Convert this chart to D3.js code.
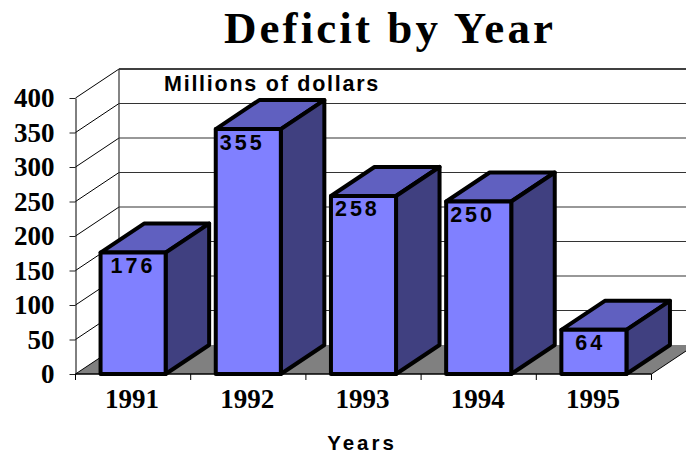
<!doctype html>
<html>
<head>
<meta charset="utf-8">
<style>
html, body { margin:0; padding:0; background:#fff; }
svg { display:block; }
.serif { font-family:"Liberation Serif", serif; font-weight:bold; fill:#000; }
.sans { font-family:"Liberation Sans", sans-serif; font-weight:bold; fill:#000; }
</style>
<script src="https://d3js.org/d3.v7.min.js" charset="utf-8"></script>
</head>
<body>
<script>

var years = ['1991', '1992', '1993', '1994', '1995'];
var deficits = [176, 355, 258, 250, 64];
var valueTicks = [0, 50, 100, 150, 200, 250, 300, 350, 400];

var width = 686, height = 453;
var depthX = 43.5, depthY = 29;   // 3D offset of the back wall
var barStroke = 4;

var svg = d3.select('body').append('svg')
	.attr('width', width)
	.attr('height', height);

var x = d3.scaleBand().domain(years).range([75.5, 651.5]).paddingInner(0.435).paddingOuter(0.2175);
var y = d3.scaleLinear().domain([0, 400]).range([374, 98]);

function pts(list) {
	return list.map(function (p) { return p.join(','); }).join(' ');
}

// title
svg.append('text').attr('class', 'serif')
	.attr('x', 390).attr('y', 43)
	.attr('text-anchor', 'middle')
	.attr('font-size', 45)
	.attr('letter-spacing', 3.1)
	.text('Deficit by Year');

// floor
svg.append('polygon')
	.attr('points', pts([[x.range()[0], y(0)], [x.range()[0] + depthX, y(0) - depthY],
		[x.range()[1] + depthX, y(0) - depthY], [x.range()[1], y(0)]]))
	.attr('fill', '#808080');

// back wall grid
svg.append('g').selectAll('line')
	.data(valueTicks.slice(1))
	.enter().append('line')
	.attr('x1', x.range()[0] + depthX)
	.attr('x2', width)
	.attr('y1', function (d) { return y(d) - depthY; })
	.attr('y2', function (d) { return y(d) - depthY; })
	.attr('stroke', function (d) { return d == 400 ? '#000' : '#333'; })
	.attr('stroke-width', function (d) { return d == 400 ? 1.4 : 1.2; });

// left wall grid
svg.append('g').selectAll('line')
	.data(valueTicks.slice(1))
	.enter().append('line')
	.attr('x1', x.range()[0])
	.attr('x2', x.range()[0] + depthX)
	.attr('y1', function (d) { return y(d); })
	.attr('y2', function (d) { return y(d) - depthY; })
	.attr('stroke', '#000')
	.attr('stroke-width', 1);

// wall edges
svg.append('line')
	.attr('x1', x.range()[0] + depthX).attr('x2', x.range()[0] + depthX)
	.attr('y1', y(400) - depthY).attr('y2', y(0) - depthY)
	.attr('stroke', '#333').attr('stroke-width', 1.2);
svg.append('line')
	.attr('x1', x.range()[0]).attr('x2', x.range()[0] + depthX)
	.attr('y1', y(0)).attr('y2', y(0) - depthY)
	.attr('stroke', '#000').attr('stroke-width', 1);
svg.append('line')
	.attr('x1', x.range()[1]).attr('x2', x.range()[1] + depthX)
	.attr('y1', y(0)).attr('y2', y(0) - depthY)
	.attr('stroke', '#000').attr('stroke-width', 1);

// value axis
var yAxis = svg.append('g')
	.attr('transform', 'translate(' + x.range()[0] + ',0)')
	.call(d3.axisLeft(y).tickValues(valueTicks).tickSize(6).tickPadding(15).tickSizeOuter(0));
yAxis.selectAll('path').attr('stroke', '#000').attr('stroke-width', 1);
yAxis.selectAll('line').attr('stroke', '#222').attr('stroke-width', 1);
yAxis.selectAll('text')
	.attr('class', 'serif')
	.attr('font-size', 27)
	.attr('dy', '0.33em');
yAxis.attr('font-family', null).attr('font-size', null);

// category axis, ticks sit between the bars
var step = x.step();
var xAxis = svg.append('g');
xAxis.append('line')
	.attr('x1', x.range()[0]).attr('x2', x.range()[1])
	.attr('y1', y(0)).attr('y2', y(0))
	.attr('stroke', '#000').attr('stroke-width', 1.4);
xAxis.selectAll('.tick')
	.data(d3.range(years.length + 1))
	.enter().append('line')
	.attr('class', 'tick')
	.attr('x1', function (i) { return x.range()[0] + i * step; })
	.attr('x2', function (i) { return x.range()[0] + i * step; })
	.attr('y1', y(0)).attr('y2', y(0) + 6)
	.attr('stroke', '#000').attr('stroke-width', 1);

// bars
var labelInset = [10, 4, 4, 4, 14];
var bars = svg.append('g').selectAll('g')
	.data(years)
	.enter().append('g');

bars.each(function (yr, i) {
	var g = d3.select(this);
	var x0 = x(yr), x1 = x(yr) + x.bandwidth();
	var yTop = y(deficits[i]), yBase = y(0);

	g.append('polygon')
		.attr('points', pts([[x0, yTop], [x0 + depthX, yTop - depthY], [x1 + depthX, yTop - depthY], [x1, yTop]]))
		.attr('fill', '#6060c0');
	g.append('polygon')
		.attr('points', pts([[x1, yTop], [x1 + depthX, yTop - depthY], [x1 + depthX, yBase - depthY], [x1, yBase]]))
		.attr('fill', '#404080');
	g.append('rect')
		.attr('x', x0).attr('y', yTop)
		.attr('width', x.bandwidth()).attr('height', yBase - yTop)
		.attr('fill', '#8080ff');

	// outline on top of all three faces
	g.selectAll('polygon, rect')
		.attr('stroke', '#000')
		.attr('stroke-width', barStroke)
		.attr('stroke-linejoin', 'round');

	g.append('text').attr('class', 'sans')
		.attr('x', x0 + labelInset[i])
		.attr('y', yTop + 20.5)
		.attr('font-size', 21.5)
		.attr('letter-spacing', 3)
		.text(deficits[i]);

	g.append('text').attr('class', 'serif')
		.attr('x', x0 + x.bandwidth() / 2 - 1)
		.attr('y', 408)
		.attr('text-anchor', 'middle')
		.attr('font-size', 27)
		.text(yr);
});

svg.append('text').attr('class', 'sans')
	.attr('x', 164).attr('y', 91)
	.attr('font-size', 21.5)
	.attr('letter-spacing', 1.75)
	.text('Millions of dollars');

svg.append('text').attr('class', 'sans')
	.attr('x', 362).attr('y', 449.5)
	.attr('text-anchor', 'middle')
	.attr('font-size', 20.5)
	.attr('letter-spacing', 3)
	.text('Years');

</script>
</body>
</html>
